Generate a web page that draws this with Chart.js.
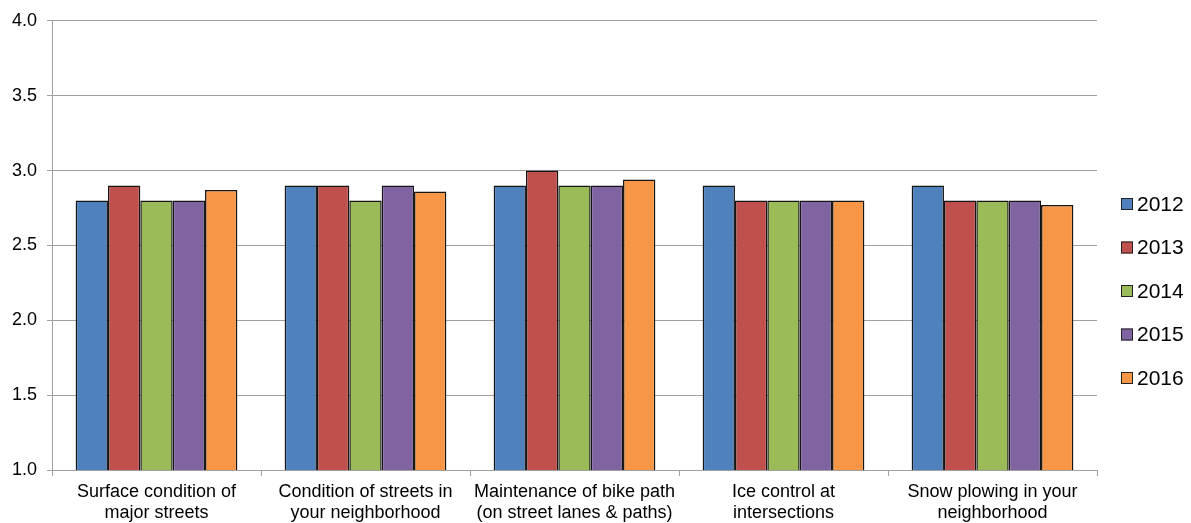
<!DOCTYPE html>
<html>
<head>
<meta charset="utf-8">
<script src="https://cdn.jsdelivr.net/npm/chart.js@4/dist/chart.umd.min.js"></script>
<style>
  body { margin: 0; background: #fff; }
  #wrap { width: 1191px; height: 523px; }
</style>
</head>
<body>
<div id="wrap"><canvas id="chart" width="1191" height="523"></canvas></div>
<script>
// categories (two-line labels like the original)
const categories = [
  ["Surface condition of", "major streets"],
  ["Condition of streets in", "your neighborhood"],
  ["Maintenance of bike path", "(on street lanes & paths)"],
  ["Ice control at", "intersections"],
  ["Snow plowing in your", "neighborhood"]
];
const years = ["2012", "2013", "2014", "2015", "2016"];
const values2012 = [2.8, 2.9, 2.9, 2.9, 2.9];
const values2013 = [2.9, 2.9, 3.0, 2.8, 2.8];
const values2014 = [2.8, 2.8, 2.9, 2.8, 2.8];
const values2015 = [2.8, 2.9, 2.9, 2.8, 2.8];
const values2016 = [2.87, 2.86, 2.94, 2.80, 2.77];
const yTicks = [1.0, 1.5, 2.0, 2.5, 3.0, 3.5, 4.0];

const colors = ["#4F81BD", "#C0504D", "#9BBB59", "#8064A2", "#F79646"];
const FONT = "'Liberation Sans', Arial, sans-serif";

const series = [values2012, values2013, values2014, values2015, values2016];

// legend drawn on the right, like the Excel one
const sideLegend = {
  id: "sideLegend",
  afterDraw(chart) {
    const ctx = chart.ctx;
    ctx.save();
    ctx.font = "21px " + FONT;
    ctx.textBaseline = "middle";
    chart.data.datasets.forEach((ds, i) => {
      const y = 204 + i * 43.5;
      ctx.fillStyle = ds.backgroundColor;
      ctx.fillRect(1121, y - 6, 12, 12);
      ctx.strokeStyle = "#222";
      ctx.lineWidth = 1;
      ctx.strokeRect(1121.5, y - 5.5, 11, 11);
      ctx.fillStyle = "#000";
      ctx.fillText(ds.label, 1137, y + 1);
    });
    ctx.restore();
  }
};

new Chart(document.getElementById("chart"), {
  type: "bar",
  data: {
    labels: categories,
    datasets: years.map((y, i) => ({
      label: y,
      data: series[i],
      backgroundColor: colors[i],
      borderColor: "#151515",
      borderWidth: 1.5,
      borderSkipped: "bottom"
    }))
  },
  options: {
    responsive: false,
    animation: false,
    layout: { padding: { left: 0, right: 94, top: 19, bottom: 0 } },
    plugins: {
      legend: { display: false },
      tooltip: { enabled: false }
    },
    datasets: {
      bar: { categoryPercentage: 0.774, barPercentage: 1.0 }
    },
    scales: {
      x: {
        afterFit(scale) { scale.height = 53; },
        grid: {
          offset: true,
          drawOnChartArea: false,
          drawTicks: true,
          tickLength: 6,
          color: "#a0a0a0"
        },
        border: { color: "#a0a0a0", width: 1 },
        ticks: {
          color: "#000",
          font: { family: FONT, size: 18 },
          padding: 5,
          maxRotation: 0,
          autoSkip: false
        }
      },
      y: {
        min: 1,
        max: 4,
        afterFit(scale) { scale.width = 52; },
        afterBuildTicks(scale) {
          scale.ticks = yTicks.map(v => ({ value: v }));
        },
        grid: {
          color: "#a0a0a0",
          lineWidth: 1,
          tickLength: 5
        },
        border: { color: "#a0a0a0", width: 1 },
        ticks: {
          color: "#000",
          font: { family: FONT, size: 18 },
          padding: 10,
          callback: v => Number(v).toFixed(1)
        }
      }
    }
  },
  plugins: [sideLegend]
});
</script>
</body>
</html>
